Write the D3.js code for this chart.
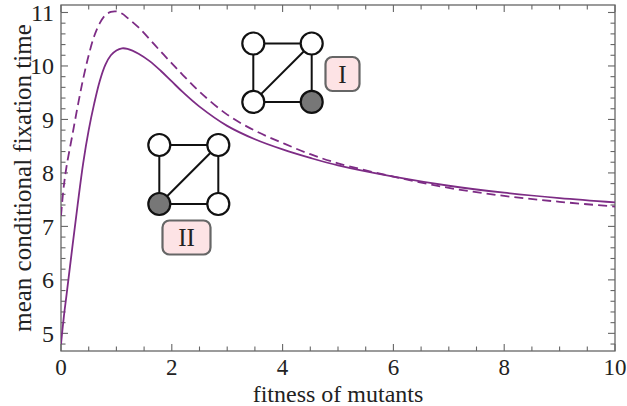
<!DOCTYPE html>
<html><head><meta charset="utf-8">
<script src="https://cdn.jsdelivr.net/npm/d3@7"></script>
<style>html,body{margin:0;padding:0;background:#fff;}svg{display:block;}</style>
</head><body>
<svg id="c" width="627" height="406"></svg>
<script>
const xSolid = [0,0.05,0.1,0.2,0.3,0.4,0.5,0.6,0.7,0.8,0.9,1.0,1.1,1.2,1.4,1.6,1.8,2.0,2.2,2.5,3.0,3.5,4.0,4.5,5.0,6.0,7.0,8.0,9.0,10];
const ySolid = [4.8,5.3,5.72,6.57,7.4,8.18,8.8,9.3,9.72,10.02,10.2,10.29,10.33,10.32,10.23,10.09,9.91,9.71,9.51,9.24,8.88,8.63,8.44,8.28,8.14,7.93,7.76,7.63,7.53,7.45];
const xDashed = [0,0.05,0.1,0.2,0.3,0.4,0.5,0.6,0.7,0.8,0.9,1.0,1.1,1.2,1.4,1.6,1.8,2.0,2.2,2.5,3.0,3.5,4.0,4.5,5.0,6.0,7.0,8.0,9.0,10];
const yDashed = [7.2,7.75,8.12,8.68,9.24,9.76,10.2,10.56,10.8,10.95,11.01,11.02,10.98,10.9,10.72,10.5,10.27,10.05,9.83,9.52,9.09,8.79,8.56,8.35,8.18,7.93,7.72,7.57,7.46,7.37];
const xTicks = [0,2,4,6,8,10];
const yTicks = [5,6,7,8,9,10,11];
const xLabel = "fitness of mutants";
const yLabel = "mean conditional fixation time";
const labels = ["I","II"];

const svg = d3.select("#c");
const L=61, R=615, T=5, B=351;
const x = d3.scaleLinear().domain([0,10]).range([L,R]);
const y = d3.scaleLinear().domain([4.67,11.14]).range([B,T]);
const frameCol = "#666";
const font = "'Liberation Serif','DejaVu Serif',serif";
const purple = "#7d2c85";

svg.append("rect").attr("x",L).attr("y",T).attr("width",R-L).attr("height",B-T)
  .attr("fill","none").attr("stroke",frameCol).attr("stroke-width",1.3);

const xMinor = d3.range(0,10.01,0.5);
const yMinor = d3.range(4.8,11.14,0.2);
const tg = svg.append("g").attr("stroke",frameCol).attr("stroke-width",1.1);
xMinor.forEach(v=>{
  const major = Math.abs(v/2-Math.round(v/2))<1e-6;
  const len = major?7:4.5;
  tg.append("line").attr("x1",x(v)).attr("x2",x(v)).attr("y1",B).attr("y2",B-len);
  tg.append("line").attr("x1",x(v)).attr("x2",x(v)).attr("y1",T).attr("y2",T+len);
});
yMinor.forEach(v=>{
  const major = Math.abs(v-Math.round(v))<1e-6;
  const len = major?7:4.5;
  tg.append("line").attr("x1",L).attr("x2",L+len).attr("y1",y(v)).attr("y2",y(v));
  tg.append("line").attr("x1",R).attr("x2",R-len).attr("y1",y(v)).attr("y2",y(v));
});

svg.append("g").selectAll("text").data(xTicks).join("text")
  .attr("x",d=>x(d)).attr("y",375).attr("text-anchor","middle")
  .attr("font-family",font).attr("font-size",23).attr("fill","#222").text(d=>d);
svg.append("g").selectAll("text").data(yTicks).join("text")
  .attr("x",54).attr("y",d=>y(d)).attr("dy","0.34em").attr("text-anchor","end")
  .attr("font-family",font).attr("font-size",24).attr("fill","#222").text(d=>d);

svg.append("text").attr("x",(L+R)/2).attr("y",402).attr("text-anchor","middle")
  .attr("font-family",font).attr("font-size",24).attr("fill","#222").text(xLabel);
svg.append("text").attr("transform",`translate(31,${(T+B)/2}) rotate(-90)`)
  .attr("text-anchor","middle").attr("font-family",font).attr("font-size",25).attr("fill","#222").text(yLabel);

svg.append("clipPath").attr("id","pc").append("rect").attr("x",L).attr("y",T).attr("width",R-L).attr("height",B-T);
const line = d3.line().x(d=>x(d[0])).y(d=>y(d[1])).curve(d3.curveCatmullRom.alpha(0.5));
svg.append("path").datum(xSolid.map((v,i)=>[v,ySolid[i]])).attr("d",line)
  .attr("fill","none").attr("stroke",purple).attr("stroke-width",1.8).attr("clip-path","url(#pc)");
svg.append("path").datum(xDashed.map((v,i)=>[v,yDashed[i]])).attr("d",line)
  .attr("fill","none").attr("stroke",purple).attr("stroke-width",1.8).attr("stroke-dasharray","9,5").attr("clip-path","url(#pc)");

function graph(cx, cy, s, grayIdx, label, bx, by, bw, bh){
  const g = svg.append("g");
  const nodes = [[cx,cy],[cx+s,cy],[cx,cy+s],[cx+s,cy+s]];
  const edges = [[0,1],[0,2],[1,3],[2,3],[2,1]];
  edges.forEach(e=>g.append("line").attr("x1",nodes[e[0]][0]).attr("y1",nodes[e[0]][1])
    .attr("x2",nodes[e[1]][0]).attr("y2",nodes[e[1]][1]).attr("stroke","#111").attr("stroke-width",2));
  nodes.forEach((n,i)=>g.append("circle").attr("cx",n[0]).attr("cy",n[1]).attr("r",11)
    .attr("fill",i===grayIdx?"#777":"#fff").attr("stroke","#111").attr("stroke-width",2.2));
  g.append("rect").attr("x",bx).attr("y",by).attr("width",bw).attr("height",bh).attr("rx",7)
    .attr("fill","#fde3e5").attr("stroke","#666").attr("stroke-width",2.2);
  g.append("text").attr("x",bx+bw/2).attr("y",by+bh/2).attr("dy","0.35em").attr("text-anchor","middle")
    .attr("font-family",font).attr("font-size",25).attr("fill","#222").text(label);
}
graph(253.3,43.5,58.4,3,labels[0],325.5,57,34,34);
graph(159.3,145,59,2,labels[1],162.5,220.5,48,34);
</script>
</body></html>
